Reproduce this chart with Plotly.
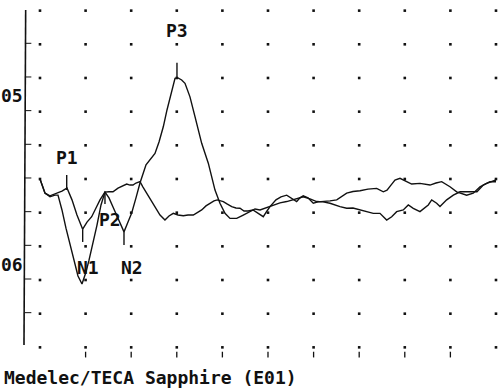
import plotly.graph_objects as go

# ---- data (x: ms, y: amplitude in grid divisions) ----
t1_x = [0, 1.10, 2.19, 3.73, 4.82, 5.92, 7.02, 8.11, 9.36, 10.31, 11.34, 12.28, 13.16, 14.25,
        15.13, 16.01, 17.11, 18.42, 19.30, 20.11, 21.05, 21.93, 23.25, 24.50, 25.22, 26.10,
        27.04, 27.85, 28.51, 29.17, 29.61, 30.26, 31.07, 31.80, 32.89, 33.99, 35.46, 36.91,
        37.72, 38.38, 39.47, 40.57, 41.67, 43.14, 44.58, 46.05, 47.15, 48.25, 49.56, 51.17,
        52.63, 54.10, 55.92, 57.74, 59.21, 60.68, 62.06, 63.60, 65.79, 67.26, 68.64, 70.18,
        71.49, 73.09, 74.56, 76.03, 77.13, 78.22, 79.67, 80.77, 81.86, 83.33, 85.15, 85.90,
        86.99, 87.72, 89.19, 90.64, 92.11, 94.30, 95.83, 97.21, 98.68, 100.0]
t1_y = [0, -0.42, -0.50, -0.42, -0.36, -0.27, -0.62, -1.07, -1.49, -1.28, -1.12, -0.86, -0.62, -0.39,
        -0.56, -0.83, -1.16, -1.57, -1.28, -1.01, -0.56, -0.12, 0.42, 0.66, 0.76, 1.10,
        1.55, 2.05, 2.44, 2.79, 2.99, 3.00, 2.94, 2.84, 2.44, 1.85, 1.06, 0.47,
        0.03, -0.33, -0.72, -1.02, -1.17, -1.17, -1.07, -0.98, -0.89, -0.92, -0.86, -0.77,
        -0.71, -0.67, -0.59, -0.53, -0.59, -0.67, -0.68, -0.72, -0.82, -0.87, -0.86, -0.92,
        -0.95, -1.02, -1.02, -1.22, -1.12, -0.97, -0.92, -0.77, -0.87, -0.97, -0.77, -0.62,
        -0.72, -0.82, -0.62, -0.48, -0.38, -0.38, -0.38, -0.18, -0.08, -0.08]

t2_x = [0, 1.10, 2.19, 3.29, 3.95, 4.82, 5.70, 6.58, 7.46, 8.33, 9.21, 10.09, 10.75, 11.62,
        12.50, 13.38, 14.25, 15.13, 16.01, 17.11, 17.98, 19.01, 19.74, 20.39, 21.05, 21.93,
        22.59, 23.40, 24.34, 25.59, 26.32, 27.41, 28.29, 29.23, 30.26, 31.43, 32.46, 33.62,
        34.43, 35.46, 36.40, 37.28, 38.16, 38.88, 40.20, 41.01, 42.04, 42.98, 43.86, 44.74,
        45.61, 46.71, 47.81, 48.97, 49.78, 50.44, 51.75, 52.85, 54.10, 55.04, 56.29, 57.02,
        57.74, 58.77, 59.93, 60.96, 62.13, 63.60, 65.07, 66.01, 67.26, 68.64, 70.18, 71.93,
        73.84, 75.29, 76.10, 76.97, 77.85, 78.95, 80.42, 81.51, 83.33, 85.53, 86.84, 88.09,
        89.91, 91.38, 93.57, 95.02, 96.49, 97.96, 100.0]
t2_y = [0, -0.42, -0.53, -0.48, -0.48, -0.92, -1.46, -1.96, -2.47, -2.88, -3.12, -2.76, -2.41, -1.90,
        -1.37, -0.77, -0.39, -0.38, -0.38, -0.27, -0.21, -0.15, -0.18, -0.18, -0.12, -0.08,
        -0.24, -0.42, -0.65, -0.92, -1.07, -1.22, -1.10, -1.02, -1.07, -1.09, -1.07, -1.07,
        -1.01, -0.92, -0.80, -0.72, -0.65, -0.62, -0.67, -0.74, -0.82, -0.86, -0.87, -0.95,
        -0.95, -0.92, -1.01, -1.12, -0.95, -0.82, -0.62, -0.53, -0.48, -0.56, -0.67, -0.56,
        -0.50, -0.56, -0.72, -0.68, -0.67, -0.65, -0.62, -0.53, -0.42, -0.37, -0.35, -0.30,
        -0.28, -0.38, -0.33, -0.18, -0.03, 0.02, -0.08, -0.15, -0.13, -0.18, -0.12, -0.08,
        -0.23, -0.38, -0.48, -0.42, -0.23, -0.13, -0.03]

peak_labels = ["P1", "N1", "P2", "N2", "P3"]
peak_x = [5.86, 9.36, 14.25, 18.42, 30.04]
peak_tick_from = [0.12, -1.49, -0.38, -1.57, 3.45]
peak_tick_to = [-0.33, -1.87, -0.74, -1.96, 3.00]
label_x = [6.03, 10.53, 15.35, 20.18, 30.04]
label_y = [0.65, -2.64, -1.19, -2.64, 4.40]

grid_x = [0, 10, 20, 30, 40, 50, 60, 70, 80, 90, 100]
grid_y = [-5, -4, -3, -2, -1, 0, 1, 2, 3, 4, 5]
axis_ticks_y = [-4, -3, -2, -1, 0, 1, 2, 3, 4]
bottom_marks_x = [10, 20, 30, 40, 50, 60, 70, 80, 90]

track_labels = ["05", "06"]
track_label_y = [2.47, -2.55]
footer = "Medelec/TECA Sapphire (E01)"

FONT = "DejaVu Sans Mono"
INK = "#111111"

fig = go.Figure()

# grid dots
gx = [x for x in grid_x for _ in grid_y]
gy = [y for _ in grid_x for y in grid_y]
fig.add_trace(go.Scatter(x=gx, y=gy, mode="markers",
                         marker=dict(size=2.6, color=INK, symbol="square"),
                         hoverinfo="skip"))

# waveforms
fig.add_trace(go.Scatter(x=t2_x, y=t2_y, mode="lines",
                         line=dict(color=INK, width=1.4), hoverinfo="skip"))
fig.add_trace(go.Scatter(x=t1_x, y=t1_y, mode="lines",
                         line=dict(color=INK, width=1.4), hoverinfo="skip"))

shapes = []
# left axis line
shapes.append(dict(type="line", x0=-3.14, y0=5.02, x1=-3.51, y1=-4.93,
                   line=dict(color=INK, width=1.6)))
for ty in axis_ticks_y:
    shapes.append(dict(type="line", x0=-3.3, y0=ty + 0.03, x1=-1.9, y1=ty + 0.03,
                       line=dict(color=INK, width=1)))
# bottom marks
for bx in bottom_marks_x:
    shapes.append(dict(type="line", x0=bx, y0=-5.13, x1=bx, y1=-5.3,
                       line=dict(color=INK, width=1.3)))
# peak cursor ticks
for px_, a, b in zip(peak_x, peak_tick_from, peak_tick_to):
    shapes.append(dict(type="line", x0=px_, y0=a, x1=px_, y1=b,
                       line=dict(color=INK, width=1.4)))

annotations = []
for lab, lx, ly in zip(peak_labels, label_x, label_y):
    annotations.append(dict(x=lx, y=ly, text="<b>" + lab + "</b>", showarrow=False,
                            xanchor="center", yanchor="middle",
                            font=dict(family=FONT, size=18, color=INK)))
for lab, ly in zip(track_labels, track_label_y):
    annotations.append(dict(x=-6.05, y=ly, text="<b>" + lab + "</b>", showarrow=False,
                            xanchor="center", yanchor="middle",
                            font=dict(family=FONT, size=18, color=INK)))
annotations.append(dict(x=-8.4, y=-5.91, text="<b>" + footer + "</b>", showarrow=False,
                        xanchor="left", yanchor="middle",
                        font=dict(family=FONT, size=18, color=INK)))

fig.update_layout(
    width=500, height=389, autosize=False,
    margin=dict(l=0, r=0, t=0, b=0, pad=0),
    paper_bgcolor="white", plot_bgcolor="white",
    showlegend=False,
    xaxis=dict(visible=False, range=[-8.77, 100.88], fixedrange=True),
    yaxis=dict(visible=False, range=[-6.237, 5.316], fixedrange=True),
    shapes=shapes, annotations=annotations,
)

fig.write_html("out.html", config={"displayModeBar": False},
               post_script="document.body.style.margin='0';document.body.style.padding='0';document.body.style.overflow='hidden';")
